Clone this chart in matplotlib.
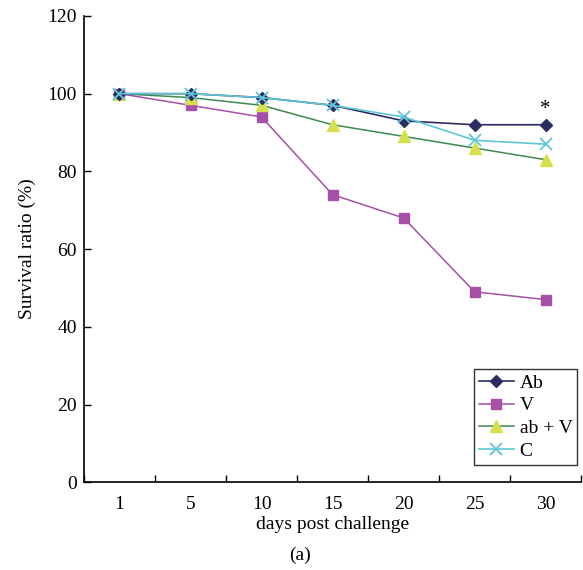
import matplotlib
matplotlib.use("Agg")
import matplotlib.pyplot as plt
import numpy as np

plt.rcParams['font.family'] = ['Liberation Serif', 'DejaVu Serif']

days = ["1", "5", "10", "15", "20", "25", "30"]
ab = [100, 100, 99, 97, 93, 92, 92]
v = [100, 97, 94, 74, 68, 49, 47]
abv = [100, 99, 97, 92, 89, 86, 83]
c = [100, 100, 99, 97, 94, 88, 87]
yticks = [0, 20, 40, 60, 80, 100, 120]

fig = plt.figure(figsize=(5.83, 5.70), dpi=100)
ax = fig.add_axes([0.144, 0.154, 0.853, 0.818])
x = np.arange(len(days))

ax.plot(x, ab, color="#2b2d62", marker="D", markersize=6.5, lw=1.2, label="Ab", zorder=5)
ax.plot(x, v, color="#a650a8", marker="s", markersize=6.5, lw=1.1, label="V", zorder=3)
ax.plot(x, abv, color="#3d8a4e", marker="^", markersize=8.5, markerfacecolor="#d6e04c",
        markeredgecolor="#d6e04c", lw=1.1, label="ab + V", zorder=4)
ax.plot(x, c, color="#5ec6d6", marker="x", markersize=8.5, markeredgewidth=1.3, lw=1.2,
        label="C", zorder=6)

ax.text(x[-1], ab[-1] + 4.0, "*", ha="center", va="center", fontsize=15)

ax.set_xlim(-0.5, len(days) - 0.5)
ax.set_ylim(0, 120)
ax.set_yticks(yticks)
ax.set_xticks(np.arange(-0.5, len(days)), labels=[""] * (len(days) + 1))
ax.set_xticks(x, labels=days, minor=True)
ax.tick_params(axis="x", which="major", direction="in", length=5, width=1)
ax.tick_params(axis="x", which="minor", length=0, pad=10, labelsize=14)
ax.tick_params(axis="y", direction="in", length=5, width=1, labelsize=14, pad=5)
for s in ["top", "right"]:
    ax.spines[s].set_visible(False)
for s in ["left", "bottom"]:
    ax.spines[s].set_linewidth(1.2)

ax.set_xlabel("days post challenge", fontsize=14, labelpad=2)
ax.set_ylabel("Survival ratio (%)", fontsize=14, labelpad=8)
fig.text(0.515, 0.025, "(a)", ha="center", va="center", fontsize=14)

leg = ax.legend(loc="lower right", bbox_to_anchor=(0.992, 0.037), frameon=True, fancybox=False,
                edgecolor="black", fontsize=14, handlelength=1.8, handletextpad=0.3,
                borderpad=0.25, labelspacing=0.27, borderaxespad=0)
leg.get_frame().set_linewidth(1.0)

fig.savefig("out.png", dpi=100)
